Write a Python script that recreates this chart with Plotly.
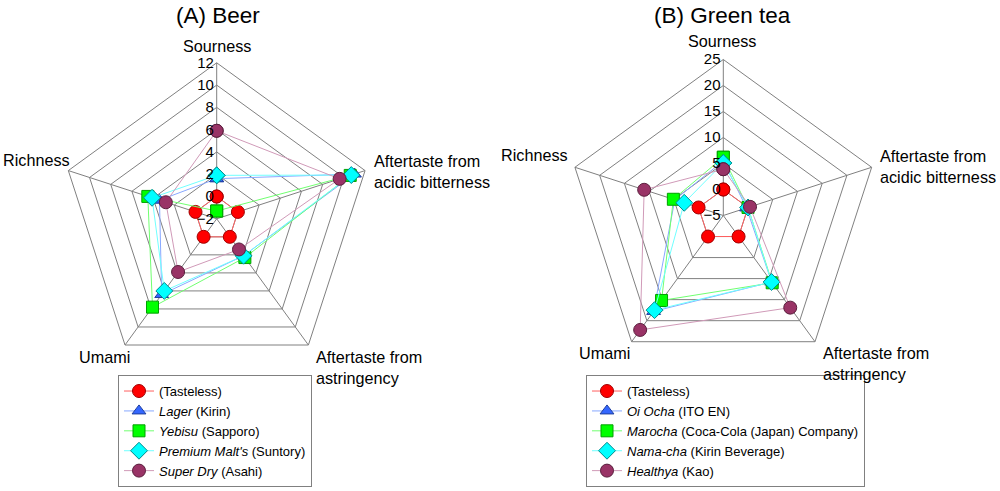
import plotly.graph_objects as go

# Axes (clockwise from top)
axes = ["Sourness", "Aftertaste from<br>acidic bitterness", "Aftertaste from<br>astringency",
        "Umami", "Richness"]

# (A) Beer
beer_names = ["(Tasteless)", "<i>Lager</i> (Kirin)", "<i>Yebisu</i> (Sapporo)",
              "<i>Premium Malt's</i> (Suntory)", "<i>Super Dry</i> (Asahi)"]
beer_tasteless = [0.0, 0.0, 0.0, 0.0, 0.0]
beer_lager = [1.6, 11.0, 2.1, 6.4, 3.4]
beer_yebisu = [-1.3, 10.6, 2.3, 7.8, 4.5]
beer_premium = [1.9, 10.7, 2.1, 6.0, 4.1]
beer_superdry = [5.9, 9.6, 1.4, 3.9, 2.8]

# (B) Green tea
tea_names = ["(Tasteless)", "<i>Oi Ocha</i> (ITO EN)", "<i>Marocha</i> (Coca-Cola (Japan) Company)",
             "<i>Nama-cha</i> (Kirin Beverage)", "<i>Healthya</i> (Kao)"]
tea_tasteless = [0.0, 0.0, 0.0, 0.0, 0.0]
tea_oiocha = [5.5, -0.3, 10.8, 17.8, 4.8]
tea_marocha = [6.2, 0.0, 11.0, 15.2, 5.1]
tea_namacha = [5.1, 0.0, 10.8, 17.5, 2.9]
tea_healthya = [3.9, 0.4, 16.9, 22.2, 11.0]

beer_ticks = [-2, 0, 2, 4, 6, 8, 10, 12]
tea_ticks = [-5, 0, 5, 10, 15, 20, 25]

styles = [
    dict(symbol="circle", color="#FF0000", line="#FF6060", outline="#A00000", size=13),
    dict(symbol="triangle-up", color="#3366FF", line="#88A8FF", outline="#1F3F9F", size=12),
    dict(symbol="square", color="#00FF00", line="#70FF70", outline="#00A000", size=12),
    dict(symbol="diamond", color="#00FFFF", line="#70FFFF", outline="#008B8B", size=13),
    dict(symbol="circle", color="#993366", line="#D09AB8", outline="#5A1F3D", size=13),
]

FONT = "Liberation Sans, Arial, sans-serif"
W, H = 1000, 491
fig = go.Figure()


def add_group(series, names, polar, legend):
    for vals, name, st in zip(series, names, styles):
        fig.add_trace(go.Scatterpolar(
            r=vals + [vals[0]], theta=axes + [axes[0]], mode="lines+markers", name=name,
            subplot=polar, legend=legend, cliponaxis=True,
            line=dict(color=st["line"], width=1),
            marker=dict(symbol=st["symbol"], color=st["color"], size=st["size"],
                        line=dict(color=st["outline"], width=1)),
        ))


add_group([beer_tasteless, beer_lager, beer_yebisu, beer_premium, beer_superdry],
          beer_names, "polar", "legend")
add_group([tea_tasteless, tea_oiocha, tea_marocha, tea_namacha, tea_healthya],
          tea_names, "polar2", "legend2")


def polar_cfg(cx, cy, rad, ticks):
    return dict(
        domain=dict(x=[(cx - rad) / W, (cx + rad) / W],
                    y=[1 - (cy + rad) / H, 1 - (cy - rad) / H]),
        gridshape="linear", bgcolor="white",
        angularaxis=dict(direction="clockwise", rotation=90, showline=True,
                         linecolor="#808080", linewidth=1, gridcolor="#808080",
                         ticks="", showticklabels=False),
        radialaxis=dict(range=[ticks[0], ticks[-1]], tickvals=ticks, angle=90,
                        side="counterclockwise", showline=False, gridcolor="#808080",
                        ticks="", tickangle=90,
                        tickfont=dict(size=15, color="black", family=FONT)),
    )


leg = dict(xanchor="left", yanchor="bottom", bordercolor="#808080", borderwidth=1,
           bgcolor="white", font=dict(size=13, color="black", family=FONT),
           tracegroupgap=0, itemwidth=30)

# axis-name labels (pixel positions of the text blocks)
label_pos = {
    "polar": [(216.7, 45.7, "center"), (372, 171, "left"), (314, 367, "left"),
              (132, 357, "right"), (0.5, 160, "left")],
    "polar2": [(721.5, 41, "center"), (878, 167, "left"), (821, 363, "left"),
               (632, 353, "right"), (570, 155, "right")],
}
ann = []
for key, plist in label_pos.items():
    for text, (px, py, anc) in zip(axes, plist):
        ann.append(dict(text=text, x=px / W, y=1 - py / H, xref="paper", yref="paper",
                        showarrow=False, xanchor=anc, yanchor="middle", align=anc,
                        font=dict(size=16.2, family=FONT, color="black")))
for text, px in [("(A) Beer", 217.5), ("(B) Green tea", 722.5)]:
    ann.append(dict(text=text, x=px / W, y=1 - 15 / H, xref="paper", yref="paper",
                    showarrow=False, font=dict(size=22.5, family=FONT, color="black"),
                    xanchor="center", yanchor="middle"))

fig.update_layout(
    width=W, height=H, margin=dict(l=0, r=0, t=0, b=0, autoexpand=False),
    paper_bgcolor="white", font=dict(family=FONT, color="black"),
    polar=polar_cfg(216.7, 218.8, 156, beer_ticks),
    polar2=polar_cfg(723.3, 215.5, 156, tea_ticks),
    legend=dict(x=0.118, y=0.008, **leg),
    legend2=dict(x=0.586, y=0.008, **leg),
    annotations=ann,
)

fig.write_html("out.html", config={"displayModeBar": False},
               post_script="document.body.style.margin='0';document.body.style.overflow='hidden';")
